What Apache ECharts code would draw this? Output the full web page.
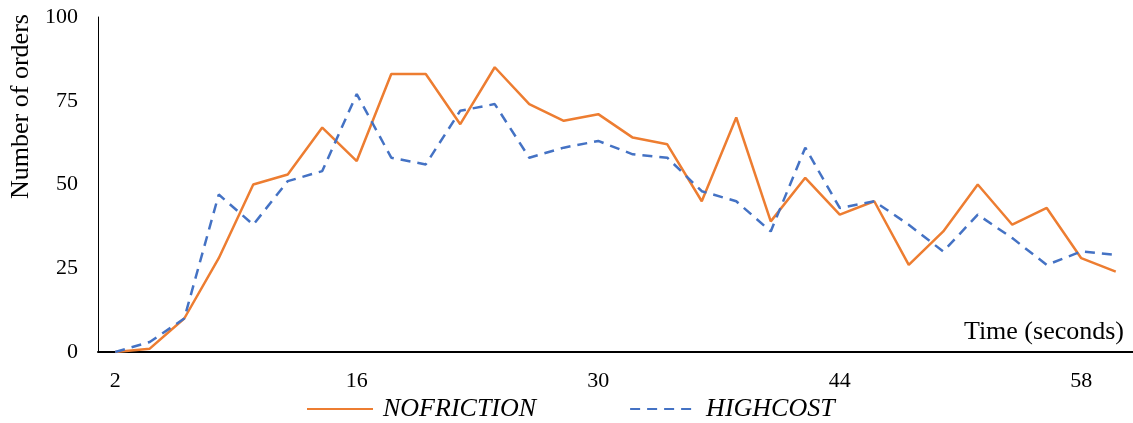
<!DOCTYPE html>
<html>
<head>
<meta charset="utf-8">
<script src="https://cdn.jsdelivr.net/npm/echarts@6/dist/echarts.min.js"></script>
<style>
  html, body { margin: 0; padding: 0; background: #fff; }
  #chart { width: 1133px; height: 423px; }
</style>
</head>
<body>
<div id="chart"></div>
<script>
const categories = [2, 4, 6, 8, 10, 12, 14, 16, 18, 20, 22, 24, 26, 28, 30,
                    32, 34, 36, 38, 40, 42, 44, 46, 48, 50, 52, 54, 56, 58, 60];
const noFriction = [0, 1, 10, 28, 50, 53, 67, 57, 83, 83, 68, 85, 74, 69, 71,
                    64, 62, 45, 70, 39, 52, 41, 45, 26, 36, 50, 38, 43, 28, 24];
const highCost   = [0, 3, 10, 47, 38, 51, 54, 77, 58, 56, 72, 74, 58, 61, 63,
                    59, 58, 48, 45, 36, 61, 43, 45, 38, 30, 41, 34, 26, 30, 29];
const yTicks = [0, 25, 50, 75, 100];

const FONT = '"Liberation Serif", "Times New Roman", serif';
const chart = echarts.init(document.getElementById('chart'));
chart.setOption({
  animation: false,
  backgroundColor: '#fff',
  textStyle: { fontFamily: FONT, color: '#000' },
  grid: { left: 98, top: 17, width: 1040, height: 335, containLabel: false },
  legend: {
    left: 306, top: 396, padding: 0,
    itemWidth: 66, itemHeight: 14, itemGap: 93,
    itemStyle: { opacity: 0 },
    textStyle: { fontFamily: FONT, fontSize: 26, fontStyle: 'italic', color: '#000', padding: [0, 0, 0, 5] },
    data: ['NOFRICTION', 'HIGHCOST']
  },
  xAxis: {
    type: 'category',
    data: categories,
    boundaryGap: true,
    name: 'Time (seconds)',
    nameLocation: 'end',
    nameGap: -9,
    nameTextStyle: { fontFamily: FONT, fontSize: 26, color: '#000', align: 'right', verticalAlign: 'bottom', padding: [0, 0, 7, 0] },
    axisLine: { lineStyle: { color: '#000', width: 2 } },
    axisTick: { show: false },
    axisLabel: { interval: 6, margin: 18, fontFamily: FONT, fontSize: 22, color: '#000' },
    splitLine: { show: false }
  },
  yAxis: {
    type: 'value',
    min: yTicks[0], max: yTicks[yTicks.length - 1], interval: 25,
    name: 'Number of orders',
    nameLocation: 'middle',
    nameRotate: 90,
    nameGap: 63,
    nameTextStyle: { fontFamily: FONT, fontSize: 26, color: '#000', padding: [0, 0, 0, 156] },
    axisLine: { show: true, lineStyle: { color: '#000', width: 1 } },
    axisTick: { show: false },
    axisLabel: { margin: 20, fontFamily: FONT, fontSize: 22, color: '#000' },
    splitLine: { show: false }
  },
  series: [
    {
      name: 'NOFRICTION', type: 'line', data: noFriction,
      symbol: 'none', smooth: false,
      lineStyle: { color: '#ED7D31', width: 2.5 },
      itemStyle: { color: '#ED7D31' }
    },
    {
      name: 'HIGHCOST', type: 'line', data: highCost,
      symbol: 'none', smooth: false,
      lineStyle: { color: '#4472C4', width: 2.5, type: [10, 7] },
      itemStyle: { color: '#4472C4' }
    }
  ]
});
</script>
</body>
</html>
